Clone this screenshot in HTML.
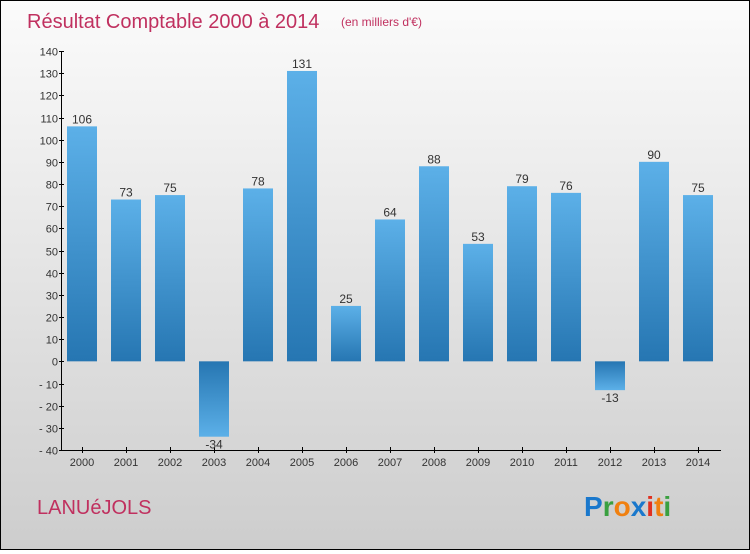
<!DOCTYPE html>
<html><head><meta charset="utf-8"><style>
html,body{margin:0;padding:0}
body{width:750px;height:550px;overflow:hidden;font-family:"Liberation Sans",sans-serif}
#wrap{position:relative;width:748px;height:548px;border:1px solid #000;background:linear-gradient(#fbfbfb,#cdcdcd)}
</style></head><body>
<div id="wrap">
<svg id="chart" width="748" height="548">
<defs>
<linearGradient id="gp" x1="0" y1="0" x2="0" y2="1"><stop offset="0" stop-color="#5cb0e8"/><stop offset="1" stop-color="#2676b2"/></linearGradient>
<linearGradient id="gn" x1="0" y1="0" x2="0" y2="1"><stop offset="0" stop-color="#2676b2"/><stop offset="1" stop-color="#5cb0e8"/></linearGradient>
</defs>
<text x="26" y="27" font-size="20" fill="#c0305f">Résultat Comptable 2000 à 2014</text>
<text x="340" y="25" font-size="12" fill="#c0305f">(en milliers d'€)</text>
<text x="36" y="513" font-size="20" fill="#c0305f">LANUéJOLS</text>
<g font-size="28" font-weight="bold" font-family="'Liberation Sans',sans-serif">
<text x="583" y="515"><tspan fill="#1a78cc">P</tspan><tspan fill="#3aa040">r</tspan><tspan fill="#f08010">o</tspan><tspan fill="#1a78cc">x</tspan><tspan fill="#e03020">i</tspan><tspan fill="#f08010">t</tspan><tspan fill="#3aa040">i</tspan></text>
</g>
<g id="axes"></g>
<g id="bars"></g>
</svg>
</div>
<script>
const years=["2000","2001","2002","2003","2004","2005","2006","2007","2008","2009","2010","2011","2012","2013","2014"];
const values=[106,73,75,-34,78,131,25,64,88,53,79,76,-13,90,75];
const yTicks=[140,130,120,110,100,90,80,70,60,50,40,30,20,10,0,-10,-20,-30,-40];
const NS="http://www.w3.org/2000/svg";
const yMin=-40,yMax=140,plotTop=50,plotBot=449,x0=60,x1=720,step=44,first=81,bw=30;
function y(v){return plotBot-(v-yMin)*(plotBot-plotTop)/(yMax-yMin);}
function x(i){return first+i*step;}
function mk(t,a,p){const e=document.createElementNS(NS,t);for(const k in a)e.setAttribute(k,a[k]);p.appendChild(e);return e;}
const ax=document.getElementById('axes'),bars=document.getElementById('bars');
const yl=mk('line',{x1:x0+0.5,y1:plotTop,x2:x0+0.5,y2:plotBot,stroke:'#000','stroke-width':1},ax);


const xl=mk('line',{x1:x0,y1:plotBot+0.5,x2:x1,y2:plotBot+0.5,stroke:'#000','stroke-width':1},ax);


yTicks.forEach(v=>{
 const yy=Math.round(y(v))+0.5;
 mk('line',{x1:x0-2,y1:yy,x2:x0+3,y2:yy,stroke:'#000'},ax);
 const t=mk('text',{x:x0-3,y:yy+4,'font-size':11,fill:'#333','text-anchor':'end'},ax);
 t.textContent=v<0?'- '+(-v):String(v);
 
 
});
years.forEach((yr,i)=>{
 const cx=x(i);
 mk('line',{x1:cx+0.5,y1:plotBot-3,x2:cx+0.5,y2:plotBot+3,stroke:'#000'},ax);
 const t=mk('text',{x:cx,y:plotBot+16,'font-size':11,fill:'#333','text-anchor':'middle'},ax);
 t.textContent=yr;
 
 
 const v=values[i],y0=y(0),yv=y(v);
 const r=mk('rect',{x:cx-bw/2,y:Math.min(y0,yv),width:bw,height:Math.abs(yv-y0),fill:v>=0?'url(#gp)':'url(#gn)'},bars);
 
 
 const l=mk('text',{x:cx,y:v>=0?yv-3:yv+12,'font-size':12,fill:'#333','text-anchor':'middle'},bars);
 l.textContent=v<0?'-'+(-v):String(v);
 
 
});
</script>
</body></html>
